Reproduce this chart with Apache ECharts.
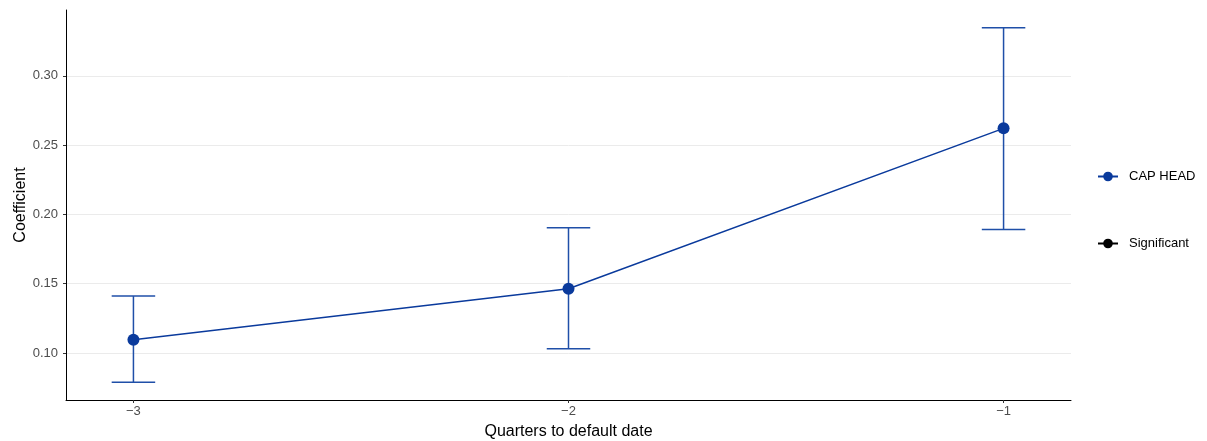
<!DOCTYPE html>
<html><head><meta charset="utf-8">
<script src="https://cdn.jsdelivr.net/npm/echarts@6/dist/echarts.min.js"></script>
<style>html,body{margin:0;padding:0;background:#fff}#c{width:1207px;height:441px}</style>
</head><body><div id="c"></div>
<script>
const quarters = [-3, -2, -1];
const coef = [0.1096, 0.1464, 0.2621];
const ciLow = [0.0789, 0.1031, 0.1892];
const ciHigh = [0.1411, 0.1904, 0.3347];
const xTicks = [-3, -2, -1];
const yTicks = [0.10, 0.15, 0.20, 0.25, 0.30];
const capHalf = 0.05;
const lineColor = '#0a3a9c';
const barColor = '#1f4fa8';

const chart = echarts.init(document.getElementById('c'));
const font = 'Liberation Sans, Arial, sans-serif';
chart.setOption({
  animation: false,
  grid: {left: 66, right: 136, top: 10, bottom: 41, outerBoundsMode: 'none', containLabel: false},
  xAxis: {
    type: 'value', min: -3.155, max: -0.845,
    name: 'Quarters to default date', nameLocation: 'middle', nameGap: 24, nameMoveOverlap: false,
    nameTextStyle: {fontFamily: font, fontSize: 16, color: '#000'},
    axisLine: {show: true, onZero: false, lineStyle: {color: '#000', width: 1}},
    axisTick: {show: true, customValues: xTicks, length: 3, lineStyle: {color: '#333'}},
    axisLabel: {customValues: xTicks, margin: 5, fontFamily: font, fontSize: 13, color: '#4d4d4d',
      formatter: v => (v < 0 ? '\u2212' + Math.abs(v) : String(v))},
    splitLine: {show: false}
  },
  yAxis: {
    type: 'value', min: 0.0661, max: 0.3475,
    name: 'Coefficient', nameLocation: 'middle', nameGap: 37, nameRotate: 90, nameMoveOverlap: false,
    nameTextStyle: {fontFamily: font, fontSize: 16, color: '#000'},
    axisLine: {show: true, onZero: false, lineStyle: {color: '#000', width: 1}},
    axisTick: {show: true, customValues: yTicks, length: 3, lineStyle: {color: '#333'}},
    axisLabel: {customValues: yTicks, margin: 8, fontFamily: font, fontSize: 13, color: '#4d4d4d',
      formatter: v => v.toFixed(2)},
    splitLine: {show: true, lineStyle: {color: '#ebebeb', width: 1}}
  },
  legend: [
    {data: ['CAP HEAD'], orient: 'vertical', left: 1097, top: 170, padding: 0, itemWidth: 20, itemHeight: 12,
      textStyle: {fontFamily: font, fontSize: 13, color: '#000', padding: [0, 0, 0, 6]}},
    {data: ['Significant'], orient: 'vertical', left: 1097, top: 237, padding: 0, itemWidth: 20, itemHeight: 12,
      textStyle: {fontFamily: font, fontSize: 13, color: '#000', padding: [0, 0, 0, 6]}}
  ],
  series: [
    {
      type: 'custom', name: 'errbar', z: 2,
      data: quarters.map((q, i) => [q, ciLow[i], ciHigh[i]]),
      renderItem: (params, api) => {
        const x = api.value(0), lo = api.value(1), hi = api.value(2);
        const pLo = api.coord([x, lo]), pHi = api.coord([x, hi]);
        const l = api.coord([x - capHalf, lo]), r = api.coord([x + capHalf, lo]);
        const l2 = api.coord([x - capHalf, hi]), r2 = api.coord([x + capHalf, hi]);
        const st = {stroke: barColor, lineWidth: 1.5};
        return {type: 'group', children: [
          {type: 'line', shape: {x1: pLo[0], y1: pLo[1], x2: pHi[0], y2: pHi[1]}, style: st},
          {type: 'line', shape: {x1: l[0], y1: l[1], x2: r[0], y2: r[1]}, style: st},
          {type: 'line', shape: {x1: l2[0], y1: l2[1], x2: r2[0], y2: r2[1]}, style: st}
        ]};
      }
    },
    {
      type: 'line', name: 'CAP HEAD', z: 3,
      data: quarters.map((q, i) => [q, coef[i]]),
      symbol: 'circle', symbolSize: 12, showSymbol: true,
      itemStyle: {color: lineColor},
      lineStyle: {color: lineColor, width: 1.5}
    },
    {
      type: 'line', name: 'Significant', data: [],
      symbol: 'circle', symbolSize: 12,
      itemStyle: {color: '#000'}, lineStyle: {color: '#000', width: 1.5}
    }
  ]
});
</script></body></html>
